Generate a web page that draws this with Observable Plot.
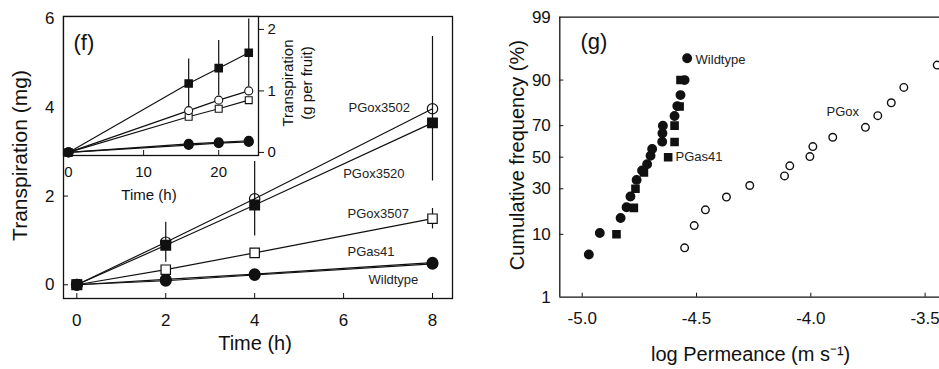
<!DOCTYPE html>
<html>
<head>
<meta charset="utf-8">
<script src="https://cdn.jsdelivr.net/npm/d3@7"></script>
<script src="https://cdn.jsdelivr.net/npm/@observablehq/plot@0.6"></script>
<style>
  html, body { margin: 0; padding: 0; background: white; overflow: hidden; }
  #wrap { position: relative; width: 939px; height: 369px; overflow: hidden; }
  #wrap > svg, #wrap > figure { position: absolute; margin: 0; }
</style>
</head>
<body>
<div id="wrap"></div>
<script>
// ---------- Panel (f) main: transpiration (mg) vs time (h) ----------
const mainTime = [0, 2, 4, 8];
const mainPGox3502 = [0, 0.96, 1.94, 3.97];
const mainPGox3502Err = [0, 0.45, 0.84, 1.63];
const mainPGox3520 = [0, 0.89, 1.80, 3.65];
const mainPGox3507 = [0, 0.34, 0.72, 1.49];
const mainPGox3507Err = [0, 0, 0, 0.23];
const mainPGas41 = [0, 0.12, 0.24, 0.50];
const mainWildtype = [0, 0.09, 0.22, 0.47];
const mainXTicks = [0, 2, 4, 6, 8];
const mainYTicks = [0, 2, 4, 6];
const mainLabelNames = ["PGox3502", "PGox3520", "PGox3507", "PGas41", "Wildtype"];
const mainLabelX = [6.11, 5.99, 6.09, 6.09, 6.56];
const mainLabelY = [3.98, 2.51, 1.61, 0.75, 0.10];

// ---------- Panel (f) inset: transpiration (g per fruit) vs time (h) ----------
const insetTime = [0, 16, 20, 24];
const insetPGox3502 = [0, 0.68, 0.85, 1.0];
const insetPGox3520 = [0, 1.12, 1.37, 1.62];
const insetPGox3520Err = [0, 0.4, 0.45, 0.55];
const insetPGox3507 = [0, 0.58, 0.71, 0.85];
const insetPGas41 = [0, 0.14, 0.165, 0.19];
const insetWildtype = [0, 0.12, 0.15, 0.17];
const insetXTicks = [0, 10, 20];
const insetYTicks = [0, 1, 2];

// ---------- Panel (g): cumulative frequency vs log permeance ----------
const wtLogP = [-4.971, -4.923, -4.832, -4.806, -4.789, -4.762, -4.738, -4.716, -4.701, -4.694, -4.650, -4.649, -4.647, -4.596, -4.584, -4.570, -4.552, -4.541];
const wtPct  = [5.3, 10.4, 15.6, 20.3, 25.7, 35.3, 41.3, 45.4, 50.9, 55.5, 60.2, 65.5, 70.0, 75.3, 80.2, 84.9, 90.0, 95.0];
const asLogP = [-4.850, -4.774, -4.767, -4.730, -4.624, -4.596, -4.596, -4.574, -4.570];
const asPct  = [10, 20, 30, 40, 50, 60, 70, 80, 90];
const oxLogP = [-4.552, -4.510, -4.461, -4.369, -4.267, -4.115, -4.092, -4.004, -3.991, -3.904, -3.761, -3.707, -3.648, -3.593, -3.447];
const oxPct  = [6.6, 12.8, 19.1, 25.4, 31.9, 37.8, 44.3, 50.4, 57.0, 63.0, 69.0, 75.5, 81.7, 87.7, 93.7];
const gXTicks = [-5.0, -4.5, -4.0, -3.5];
const gYTickLabels = [1, 10, 30, 50, 70, 90, 99];
const gLabelNames = ["Wildtype", "PGas41", "PGox"];
const gLabelX = [-4.504, -4.592, -3.931];
const gLabelPct = [94.7, 50.2, 77.4];

// inverse normal CDF (probability-paper axis)
function probit(p) {
  const a=[-3.969683028665376e+01,2.209460984245205e+02,-2.759285104469687e+02,1.383577518672690e+02,-3.066479806614716e+01,2.506628277459239e+00];
  const b=[-5.447609879822406e+01,1.615858368580409e+02,-1.556989798598866e+02,6.680131188771972e+01,-1.328068155288572e+01];
  const c=[-7.784894002430293e-03,-3.223964580411365e-01,-2.400758277161838e+00,-2.549732539343734e+00,4.374664141464968e+00,2.938163982698783e+00];
  const d=[7.784695709041462e-03,3.224671290700398e-01,2.445134137142996e+00,3.754408661907416e+00];
  const pl = 0.02425, ph = 1 - pl;
  let q, r;
  if (p < pl) { q = Math.sqrt(-2*Math.log(p)); return (((((c[0]*q+c[1])*q+c[2])*q+c[3])*q+c[4])*q+c[5])/((((d[0]*q+d[1])*q+d[2])*q+d[3])*q+1); }
  if (p <= ph) { q = p-0.5; r = q*q; return (((((a[0]*r+a[1])*r+a[2])*r+a[3])*r+a[4])*r+a[5])*q/(((((b[0]*r+b[1])*r+b[2])*r+b[3])*r+b[4])*r+1); }
  q = Math.sqrt(-2*Math.log(1-p)); return -(((((c[0]*q+c[1])*q+c[2])*q+c[3])*q+c[4])*q+c[5])/((((d[0]*q+d[1])*q+d[2])*q+d[3])*q+1);
}

const FONT = "'Liberation Sans', Arial, Helvetica, sans-serif";
const INK = "#111";

function rows(xs, ys, series, errs) {
  return xs.map((x, i) => ({x, y: ys[i], series, err: errs ? errs[i] : 0}));
}

// ---------- build main (f) ----------
const mainData = [
  ...rows(mainTime, mainWildtype, "Wildtype"),
  ...rows(mainTime, mainPGas41, "PGas41"),
  ...rows(mainTime, mainPGox3507, "PGox3507", mainPGox3507Err),
  ...rows(mainTime, mainPGox3520, "PGox3520"),
  ...rows(mainTime, mainPGox3502, "PGox3502", mainPGox3502Err)
];
const mainErr = mainData.filter(d => d.err > 0);
const mainLabels = mainLabelNames.map((t, i) => ({t, x: mainLabelX[i], y: mainLabelY[i]}));
const mW = 470, mH = 369, mL = 63, mR = 18, mT = 16, mB = 71;

const mainPlot = Plot.plot({
  width: mW, height: mH,
  marginLeft: mL, marginRight: mR, marginTop: mT, marginBottom: mB,
  x: {domain: [-0.3, 8.45]},
  y: {domain: [-0.31, 6.05]},
  style: {fontFamily: FONT, background: "transparent", color: INK, overflow: "visible"},
  marks: [
    Plot.frame({stroke: INK, strokeWidth: 1.3}),
    Plot.axisX({ticks: mainXTicks, tickSize: 0, tickPadding: 15, fontSize: 17, label: null, tickFormat: d => String(d)}),
    Plot.axisY({ticks: mainYTicks, tickSize: 0, tickPadding: 9, fontSize: 17, label: null, tickFormat: d => String(d)}),
    Plot.ruleX(mainXTicks, {x: d => d, insetTop: mH - mT - mB - 5, stroke: INK}),
    Plot.ruleY(mainYTicks, {y: d => d, insetRight: mW - mL - mR - 5, stroke: INK}),
    Plot.line(mainData, {x: "x", y: "y", z: "series", stroke: INK, strokeWidth: 1.2}),
    Plot.ruleX(mainErr, {x: "x", y1: d => d.y - d.err, y2: d => d.y + d.err, stroke: INK, strokeWidth: 1.2}),
    Plot.dot(mainData.filter(d => d.series === "Wildtype" || d.series === "PGas41"), {x: "x", y: "y", r: 5.2, fill: INK, stroke: INK}),
    Plot.dot(mainData.filter(d => d.series === "PGox3507"), {x: "x", y: "y", symbol: "square", r: 5.3, fill: "white", stroke: INK, strokeWidth: 1.2}),
    Plot.dot(mainData.filter(d => d.series === "PGox3520"), {x: "x", y: "y", symbol: "square", r: 5.3, fill: INK, stroke: INK}),
    Plot.dot(mainData.filter(d => d.series === "PGox3502"), {x: "x", y: "y", r: 5.2, fill: "none", stroke: INK, strokeWidth: 1.2}),
    Plot.text(mainLabels, {x: "x", y: "y", text: "t", textAnchor: "start", lineAnchor: "middle", fontSize: 13, fill: "#222"}),
    Plot.text(["Time (h)"], {frameAnchor: "bottom", textAnchor: "middle", lineAnchor: "middle", dx: -3, dy: 45, fontSize: 20, fill: INK}),
    Plot.text(["Transpiration (mg)"], {frameAnchor: "left", textAnchor: "middle", lineAnchor: "middle", rotate: -90, dx: -43, dy: -2, fontSize: 21, fill: INK})
  ]
});

// ---------- build inset ----------
const insetData = [
  ...rows(insetTime, insetWildtype, "Wildtype"),
  ...rows(insetTime, insetPGas41, "PGas41"),
  ...rows(insetTime, insetPGox3507, "PGox3507"),
  ...rows(insetTime, insetPGox3502, "PGox3502"),
  ...rows(insetTime, insetPGox3520, "PGox3520", insetPGox3520Err)
];
const insetErr = insetData.filter(d => d.err > 0);
const iW = 330, iH = 210, iL = 63, iR = 72, iT = 16, iB = 55;

const insetPlot = Plot.plot({
  width: iW, height: iH,
  marginLeft: iL, marginRight: iR, marginTop: iT, marginBottom: iB,
  x: {domain: [-0.67, 25.3]},
  y: {domain: [-0.05, 2.21]},
  style: {fontFamily: FONT, background: "transparent", color: INK, overflow: "visible"},
  marks: [
    Plot.frame({fill: "white", stroke: INK, strokeWidth: 1.3}),
    Plot.axisX({ticks: insetXTicks, tickSize: 0, tickPadding: 11, fontSize: 15, label: null, tickFormat: d => String(d)}),
    Plot.axisY({anchor: "right", ticks: insetYTicks, tickSize: 5, tickPadding: 4, fontSize: 15, label: null, tickFormat: d => String(d)}),
    Plot.ruleX(insetXTicks.slice(1), {x: d => d, insetTop: iH - iT - iB - 5, stroke: INK}),
    Plot.line(insetData, {x: "x", y: "y", z: "series", stroke: INK, strokeWidth: 1.2}),
    Plot.ruleX(insetErr, {x: "x", y1: d => d.y - d.err, y2: d => d.y + d.err, stroke: INK, strokeWidth: 1.2}),
    Plot.dot(insetData.filter(d => d.series === "Wildtype" || d.series === "PGas41"), {x: "x", y: "y", r: 4.3, fill: INK, stroke: INK}),
    Plot.dot(insetData.filter(d => d.series === "PGox3507"), {x: "x", y: "y", symbol: "square", r: 3.9, fill: "white", stroke: INK, strokeWidth: 1.1}),
    Plot.dot(insetData.filter(d => d.series === "PGox3502"), {x: "x", y: "y", r: 4, fill: "white", stroke: INK, strokeWidth: 1.1}),
    Plot.dot(insetData.filter(d => d.series === "PGox3520"), {x: "x", y: "y", symbol: "square", r: 4, fill: INK, stroke: INK}),
    Plot.text(["(f)"], {frameAnchor: "top-left", textAnchor: "start", lineAnchor: "middle", dx: 10, dy: 26, fontSize: 22, fill: INK}),
    Plot.text(["Time (h)"], {frameAnchor: "bottom", textAnchor: "middle", lineAnchor: "middle", dx: -12, dy: 40, fontSize: 15, fill: INK}),
    Plot.text(["Transpiration"], {frameAnchor: "right", textAnchor: "middle", lineAnchor: "middle", rotate: -90, dx: 30, dy: -3, fontSize: 15, fill: INK}),
    Plot.text(["(g per fruit)"], {frameAnchor: "right", textAnchor: "middle", lineAnchor: "middle", rotate: -90, dx: 49, dy: -3, fontSize: 15, fill: INK})
  ]
});

// ---------- build (g) ----------
const gData = [
  ...wtLogP.map((x, i) => ({x, pct: wtPct[i], series: "Wildtype"})),
  ...asLogP.map((x, i) => ({x, pct: asPct[i], series: "PGas41"})),
  ...oxLogP.map((x, i) => ({x, pct: oxPct[i], series: "PGox"}))
];
const gLabels = gLabelNames.map((t, i) => ({t, x: gLabelX[i], pct: gLabelPct[i]}));
const gYTicks = gYTickLabels.map(v => probit(v / 100));
const gW = 469, gH = 369, gL = 89.3, gR = 0, gT = 16.7, gB = 72.3;
const gYDomain = [probit(0.01), probit(0.99)];
const gXDomain = [-5.098, -3.437];
const py = d => probit(d.pct / 100);

const gPlot = Plot.plot({
  width: gW, height: gH,
  marginLeft: gL, marginRight: gR, marginTop: gT, marginBottom: gB,
  x: {domain: gXDomain},
  y: {domain: gYDomain},
  style: {fontFamily: FONT, background: "transparent", color: INK, overflow: "visible"},
  marks: [
    Plot.ruleX([gXDomain[0]], {stroke: INK, strokeWidth: 1.3}),
    Plot.ruleY([gYDomain[0], gYDomain[1]], {stroke: INK, strokeWidth: 1.3}),
    Plot.axisX({ticks: gXTicks, tickSize: 0, tickPadding: 15, fontSize: 17, label: null, tickFormat: d => d.toFixed(1)}),
    Plot.axisY({ticks: gYTicks, tickSize: 0, tickPadding: 9, fontSize: 17, label: null,
      tickFormat: d => String(gYTickLabels[gYTicks.findIndex(t => Math.abs(t - d) < 1e-9)])}),
    Plot.ruleX(gXTicks, {x: d => d, insetTop: gH - gT - gB - 4, stroke: INK}),
    Plot.ruleY(gYTicks.slice(1, -1), {y: d => d, insetRight: gW - gL - gR - 4, stroke: INK}),
    Plot.dot(gData.filter(d => d.series === "PGox"), {x: "x", y: py, r: 3.8, fill: "white", stroke: INK, strokeWidth: 1.4}),
    Plot.dot(gData.filter(d => d.series === "PGas41"), {x: "x", y: py, symbol: "square", r: 4, fill: INK, stroke: INK}),
    Plot.dot(gData.filter(d => d.series === "Wildtype"), {x: "x", y: py, r: 4.2, fill: INK, stroke: INK}),
    Plot.text(gLabels, {x: "x", y: py, text: "t", textAnchor: "start", lineAnchor: "middle", fontSize: 13, fill: "#222"}),
    Plot.text(["(g)"], {frameAnchor: "top-left", textAnchor: "start", lineAnchor: "middle", dx: 20.7, dy: 25, fontSize: 22, fill: INK}),
    Plot.text(["log Permeance (m s\u207B\u00B9)"], {frameAnchor: "bottom", textAnchor: "middle", lineAnchor: "middle", dx: 1, dy: 57, fontSize: 20, fill: INK}),
    Plot.text(["Cumulative frequency (%)"], {frameAnchor: "left", textAnchor: "middle", lineAnchor: "middle", rotate: -90, dx: -42, dy: -2, fontSize: 20, fill: INK})
  ]
});

const wrap = document.getElementById("wrap");
mainPlot.style.left = "0px"; mainPlot.style.top = "0px";
insetPlot.style.left = "0px"; insetPlot.style.top = "0px";
gPlot.style.left = "470px"; gPlot.style.top = "0px";
wrap.appendChild(mainPlot);
wrap.appendChild(insetPlot);
wrap.appendChild(gPlot);
</script>
</body>
</html>
